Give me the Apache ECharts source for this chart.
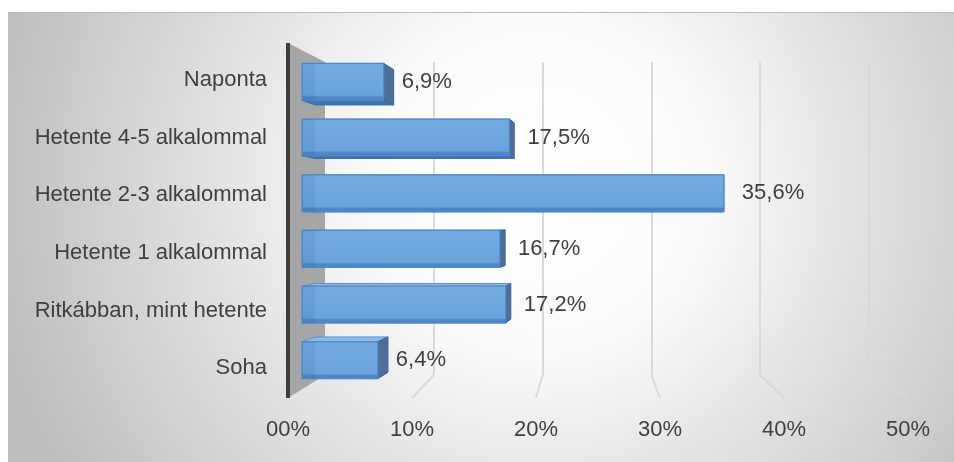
<!DOCTYPE html>
<html><head><meta charset="utf-8">
<script src="https://cdn.jsdelivr.net/npm/echarts@6/dist/echarts.min.js"></script>
<style>html,body{margin:0;padding:0;background:#fff}#c{width:954px;height:462px}</style>
</head><body><div id="c"></div>
<script>
const categories = ['Naponta','Hetente 4-5 alkalommal','Hetente 2-3 alkalommal','Hetente 1 alkalommal','Ritkábban, mint hetente','Soha'];
const values = [6.9, 17.5, 35.6, 16.7, 17.2, 6.4];
const tickValues = [0, 10, 20, 30, 40, 50];
const tickLabels = ['00%', '10%', '20%', '30%', '40%', '50%'];

const FONT = '"Liberation Sans", Arial, sans-serif';
const TXT = '#404040';
const chart = echarts.init(document.getElementById('c'), null, {renderer: 'canvas'});
function fmt(v) { return v.toFixed(1).replace('.', ',') + '%'; }
const VX = 631, VY = 220, DEPTH = 0.04;

function renderWall(params, api) {
  const bt = api.coord([0, 1]), bb = api.coord([0, 0]);
  const ft = chart.convertToPixel({gridIndex: 0}, [0, 1]);
  const fb = chart.convertToPixel({gridIndex: 0}, [0, 0]);
  return {type: 'group', children: [
    {type: 'polygon', shape: {points: [ft, bt, bb, fb]}, style: {fill: '#a6a6a6'}},
    {type: 'line', shape: {x1: ft[0], y1: ft[1], x2: fb[0], y2: fb[1]}, style: {stroke: '#3d3d3d', lineWidth: 4}}
  ]};
}
function renderFloor(params, api) {
  const v = api.value(0);
  const b = api.coord([v, 0]);
  const f = chart.convertToPixel({gridIndex: 0}, [v, 0]);
  return {type: 'line', shape: {x1: b[0], y1: b[1], x2: f[0], y2: f[1]}, style: {stroke: '#d9d9d9', lineWidth: 2}};
}
function renderBar(params, api) {
  const v = api.value(0), ci = api.value(1);
  const a = api.coord([0, ci]), b = api.coord([v, ci]);
  const h = api.size([0, 1])[1] * 0.66;
  const top = a[1] - h / 2, bot = a[1] + h / 2;
  const x0 = a[0], x1 = b[0];
  const bx0 = x0 + (VX - x0) * DEPTH, bx1 = x1 + (VX - x1) * DEPTH;
  const bTop = top + (VY - top) * DEPTH, bBot = bot + (VY - bot) * DEPTH;
  return {type: 'group', children: [
    {type: 'polygon', shape: {points: [[x0, top], [x1, top], [bx1, bTop], [bx0, bTop]]}, style: {fill: '#8ebce9', stroke: '#5a92cf', lineWidth: 1}},
    {type: 'polygon', shape: {points: [[x0, bot], [x1, bot], [bx1, bBot], [bx0, bBot]]}, style: {fill: '#3f74b2', stroke: '#3a6daa', lineWidth: 1}},
    {type: 'polygon', shape: {points: [[x1, top], [bx1, bTop], [bx1, bBot], [x1, bot]]}, style: {fill: '#4c6f98', stroke: '#3f6590', lineWidth: 1}},
    {type: 'rect', shape: {x: x0, y: top, width: x1 - x0, height: h}, style: {
      fill: new echarts.graphic.LinearGradient(0, 0, 0, 1, [
        {offset: 0, color: '#74abe1'}, {offset: 0.85, color: '#6aa3dc'}, {offset: 0.9, color: '#4f88c8'}, {offset: 1, color: '#4a82c2'}
      ]), stroke: '#4d89c9', lineWidth: 1.2}},
    {type: 'rect', shape: {x: x0, y: top, width: Math.max(0, Math.min(bx0, x1) - x0), height: h}, style: {fill: 'rgba(40,90,160,0.12)'}},
    {type: 'text', x: x1 + 18, y: a[1], style: {text: fmt(v), fill: TXT, fontSize: 22, fontFamily: FONT, verticalAlign: 'middle', align: 'left'}}
  ]};
}

const option = {
  animation: false,
  graphic: [
    {type: 'rect', z: -100, silent: true, shape: {x: 8, y: 12, width: 946, height: 450},
      style: {fill: new echarts.graphic.RadialGradient(0.56, 0.38, 1.25, [
        {offset: 0, color: '#ffffff'}, {offset: 0.3, color: '#fafafa'}, {offset: 1, color: '#bdbdbd'}
      ])}},
    {type: 'line', z: -99, silent: true, shape: {x1: 8, y1: 12.5, x2: 954, y2: 12.5}, style: {stroke: '#bababa', lineWidth: 1}}
  ],
  grid: [
    {left: 288, right: 46, top: 43, bottom: 64},
    {left: 302, right: 59.5, top: 54, bottom: 74},
    {left: 325, right: 85, top: 62, bottom: 87},
    {left: 288, right: 46, top: 51, bottom: 65}
  ],
  xAxis: [
    {gridIndex: 0, type: 'value', min: 0, max: 50, interval: 10,
      axisLine: {show: false}, axisTick: {show: false}, splitLine: {show: false},
      axisLabel: {margin: 21, fontSize: 22, color: TXT, fontFamily: FONT,
        formatter: v => tickLabels[tickValues.indexOf(v)]}},
    {gridIndex: 1, type: 'value', min: 0, max: 50, show: false},
    {gridIndex: 2, type: 'value', min: 0, max: 50, interval: 10,
      axisLine: {show: false}, axisTick: {show: false}, axisLabel: {show: false},
      splitLine: {show: true, showMinLine: false, lineStyle: {color: '#d9d9d9', width: 2}}},
    {gridIndex: 3, type: 'value', min: 0, max: 50, show: false}
  ],
  yAxis: [
    {gridIndex: 0, type: 'value', min: 0, max: 1, show: false},
    {gridIndex: 1, type: 'category', data: categories, inverse: true, show: false},
    {gridIndex: 2, type: 'value', min: 0, max: 1, show: false},
    {gridIndex: 3, type: 'category', data: categories, inverse: true,
      axisLine: {show: false}, axisTick: {show: false}, splitLine: {show: false},
      axisLabel: {margin: 21, fontSize: 22, color: TXT, fontFamily: FONT}}
  ],
  series: [
    {type: 'custom', name: 'floor', xAxisIndex: 2, yAxisIndex: 2, silent: true, z: 1,
      data: tickValues.slice(1).map(v => [v, 0]), encode: {x: 0, y: 1}, renderItem: renderFloor},
    {type: 'custom', name: 'wall', xAxisIndex: 2, yAxisIndex: 2, silent: true, z: 2,
      data: [[0, 0]], encode: {x: 0, y: 1}, renderItem: renderWall},
    {type: 'custom', name: 'bars', xAxisIndex: 1, yAxisIndex: 1, z: 3,
      data: values.map((v, i) => [v, i]), encode: {x: 0, y: 1}, renderItem: renderBar}
  ]
};
chart.setOption(option);
</script></body></html>
